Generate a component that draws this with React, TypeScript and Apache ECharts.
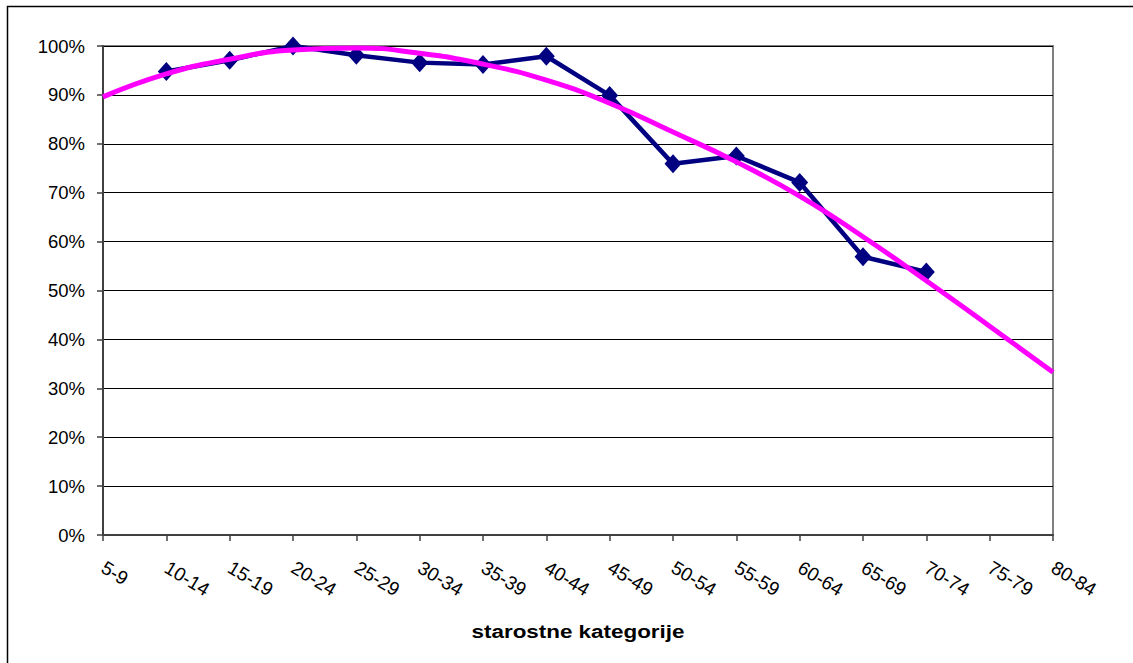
import React, { useEffect, useRef } from "react";
import * as echarts from "echarts";

const categories = [
  "5-9", "10-14", "15-19", "20-24", "25-29", "30-34", "35-39", "40-44",
  "45-49", "50-54", "55-59", "60-64", "65-69", "70-74", "75-79", "80-84",
];

// observed share (%) per age category
const observed: (number | null)[] = [
  null, 94.8, 97.1, 100, 98.1, 96.6, 96.2, 97.9,
  89.9, 75.9, 77.5, 72.1, 56.9, 53.8, null, null,
];

// trend line (%) at each category
const trend = [
  89.6, 94.3, 97.3, 99.2, 99.6, 98.5, 96.3, 93.0,
  88.3, 82.4, 76.3, 69.3, 61.0, 52.0, 42.7, 33.3,
];

const axisTitle = "starostne kategorije";

export default function App() {
  const ref = useRef<HTMLDivElement>(null);

  useEffect(() => {
    if (!ref.current) return;
    const chart = echarts.init(ref.current, undefined, { renderer: "svg" });
    const font = "Arial, 'Liberation Sans', sans-serif";
    chart.setOption({
      animation: false,
      backgroundColor: "#ffffff",
      grid: {
        left: 103,
        top: 46,
        right: 80,
        bottom: 128,
        show: true,
        borderColor: "#808080",
        borderWidth: 2,
        backgroundColor: "transparent",
      },
      xAxis: {
        type: "category",
        data: categories,
        boundaryGap: false,
        axisLine: { show: true, lineStyle: { color: "#404040", width: 2 } },
        axisTick: {
          show: true,
          interval: 0,
          length: 6,
          lineStyle: { color: "#404040", width: 1.5 },
        },
        axisLabel: {
          interval: 0,
          rotate: -31,
          margin: 31,
          color: "#000",
          fontFamily: font,
          fontSize: 19,
        },
        splitLine: { show: false },
      },
      yAxis: {
        type: "value",
        min: 0,
        max: 100,
        interval: 10,
        axisLine: { show: true, lineStyle: { color: "#404040", width: 2 } },
        axisTick: {
          show: true,
          length: 6,
          lineStyle: { color: "#404040", width: 1.5 },
        },
        axisLabel: {
          margin: 18,
          color: "#000",
          fontFamily: font,
          fontSize: 18.5,
          formatter: (v: number) => `${v}%`,
        },
        splitLine: { show: true, lineStyle: { color: "#000", width: 1 } },
      },
      graphic: [
        {
          type: "rect",
          silent: true,
          shape: { x: 7.5, y: 6.5, width: 1200, height: 700 },
          style: { fill: "none", stroke: "#000", lineWidth: 1.5 },
          z: 100,
        },
        {
          type: "text",
          x: 578,
          y: 631,
          scaleX: 1.18,
          style: {
            text: axisTitle,
            fill: "#000",
            font: `bold 19px ${font}`,
            textAlign: "center",
            textVerticalAlign: "middle",
          },
        },
      ],
      series: [
        {
          type: "line",
          data: observed,
          connectNulls: false,
          symbol: "diamond",
          symbolSize: [17, 19],
          itemStyle: { color: "#000080" },
          lineStyle: { color: "#000080", width: 4.5 },
          z: 2,
        },
        {
          type: "line",
          data: trend,
          smooth: true,
          symbol: "none",
          lineStyle: { color: "#FF00FF", width: 5 },
          z: 3,
        },
      ],
    });
    return () => chart.dispose();
  }, []);

  return (
    <div
      ref={ref}
      style={{ position: "absolute", left: 0, top: 0, width: 1133, height: 663 }}
    />
  );
}
